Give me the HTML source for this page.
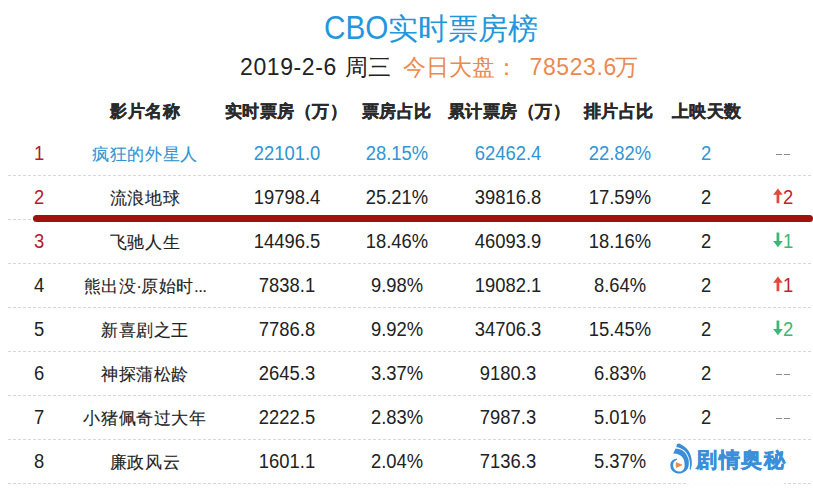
<!DOCTYPE html><html><head><meta charset="utf-8"><style>
*{margin:0;padding:0;box-sizing:border-box}
html,body{width:813px;height:490px;overflow:hidden;background:#fff}
body{position:relative;font-family:"Liberation Sans",sans-serif;color:#222}
.a{position:absolute;white-space:nowrap;text-align:center}
.title{left:0;width:813px;top:6px;height:40px;line-height:40px;font-size:30px;color:#2496dc}
.sub{top:50px;height:34px;line-height:34px;font-size:23px}
.or{color:#eb8a50}
.cjsh{position:relative;top:3px}
.cjs2{position:relative;top:0px}
.hdr{font-weight:bold;color:#2a2a2a;-webkit-text-stroke:0.35px #2a2a2a;font-size:17px;letter-spacing:0.5px}
.c{font-size:20px;letter-spacing:0px;transform:scaleX(0.92)}
.cj{font-size:17px;letter-spacing:0.6px;padding-top:2px;transform:none;-webkit-text-stroke:0.12px currentColor}
.blue{color:#2f95d4}
.red{color:#b81a2e}
.dash{position:absolute;left:8px;width:805px;height:1px;background-image:linear-gradient(to right,#d8d8d8 0,#d8d8d8 3px,transparent 3px);background-size:5px 1px}
.bar{position:absolute;left:33px;width:780px;top:215px;height:7px;border-radius:4px;background:#9e1212}
.ar{display:inline-block;vertical-align:baseline;margin-right:0px}
.gd{color:#8a8a8a}
.wm{position:absolute;left:696px;top:446px;height:28px;line-height:28px;font-size:21px;font-weight:bold;color:#3b8fd9;letter-spacing:1.6px;-webkit-text-stroke:0.5px #3b8fd9}
</style></head><body>
<div class="a title" style="left:323.5px;top:8px;width:auto;font-size:33px;transform:scaleX(0.9);transform-origin:0 0">CBO</div>
<div class="a title" style="left:387.5px;width:auto"><span class="cjsh">实时票房榜</span></div>
<div class="a sub" style="left:240px;letter-spacing:0.6px">2019-2-6</div>
<div class="a sub" style="left:345px"><span class="cjs2">周三</span></div>
<div class="a sub or" style="left:402.5px"><span class="cjs2">今日大盘</span></div>
<div class="a sub or" style="left:495px"><span class="cjs2">：</span></div>
<div class="a sub or" style="left:529.5px"><span style="letter-spacing:0.6px">78523.</span>6<span class="cjs2" style="margin-left:-1px">万</span></div>
<div class="a hdr" style="left:45.30000000000001px;width:200px;top:90px;height:44px;line-height:44px">影片名称</div>
<div class="a hdr" style="left:186.2px;width:200px;top:90px;height:44px;line-height:44px">实时票房（万）</div>
<div class="a hdr" style="left:296.6px;width:200px;top:90px;height:44px;line-height:44px">票房占比</div>
<div class="a hdr" style="left:409.0px;width:200px;top:90px;height:44px;line-height:44px">累计票房（万）</div>
<div class="a hdr" style="left:518.7px;width:200px;top:90px;height:44px;line-height:44px">排片占比</div>
<div class="a hdr" style="left:606.8px;width:200px;top:90px;height:44px;line-height:44px">上映天数</div>
<div class="dash" style="top:175px"></div>
<div class="dash" style="top:219px"></div>
<div class="dash" style="top:263px"></div>
<div class="dash" style="top:307px"></div>
<div class="dash" style="top:351px"></div>
<div class="dash" style="top:395px"></div>
<div class="dash" style="top:439px"></div>
<div class="dash" style="top:483px"></div>
<div class="bar"></div>
<div class="a c red" style="left:-31.0px;width:140px;top:131px;height:44px;line-height:44px">1</div>
<div class="a c cj blue" style="left:75.0px;width:140px;top:131px;height:44px;line-height:44px">疯狂的外星人</div>
<div class="a c blue" style="left:217.0px;width:140px;top:131px;height:44px;line-height:44px">22101.0</div>
<div class="a c blue" style="left:327.0px;width:140px;top:131px;height:44px;line-height:44px">28.15%</div>
<div class="a c blue" style="left:438.0px;width:140px;top:131px;height:44px;line-height:44px">62462.4</div>
<div class="a c blue" style="left:549.5px;width:140px;top:131px;height:44px;line-height:44px">22.82%</div>
<div class="a c blue" style="left:636.0px;width:140px;top:131px;height:44px;line-height:44px">2</div>
<div style="position:absolute;left:776px;top:154px;width:6px;height:1px;background:#8a8a8a"></div>
<div style="position:absolute;left:784px;top:154px;width:6px;height:1px;background:#8a8a8a"></div>
<div class="a c red" style="left:-31.0px;width:140px;top:175px;height:44px;line-height:44px">2</div>
<div class="a c cj" style="left:75.0px;width:140px;top:175px;height:44px;line-height:44px">流浪地球</div>
<div class="a c" style="left:217.0px;width:140px;top:175px;height:44px;line-height:44px">19798.4</div>
<div class="a c" style="left:327.0px;width:140px;top:175px;height:44px;line-height:44px">25.21%</div>
<div class="a c" style="left:438.0px;width:140px;top:175px;height:44px;line-height:44px">39816.8</div>
<div class="a c" style="left:549.5px;width:140px;top:175px;height:44px;line-height:44px">17.59%</div>
<div class="a c" style="left:636.0px;width:140px;top:175px;height:44px;line-height:44px">2</div>
<div class="a c" style="left:753.0px;width:60px;top:175px;height:44px;line-height:44px"><svg class="ar" width="11" height="16" viewBox="0 0 11 16"><path d="M5.5 0.5 L10.7 6.8 L7 6.8 L7 15.3 L4 15.3 L4 6.8 L0.3 6.8 Z" fill="#e4473c"/></svg><span style="color:#c21f2c">2</span></div>
<div class="a c red" style="left:-31.0px;width:140px;top:219px;height:44px;line-height:44px">3</div>
<div class="a c cj" style="left:75.0px;width:140px;top:219px;height:44px;line-height:44px">飞驰人生</div>
<div class="a c" style="left:217.0px;width:140px;top:219px;height:44px;line-height:44px">14496.5</div>
<div class="a c" style="left:327.0px;width:140px;top:219px;height:44px;line-height:44px">18.46%</div>
<div class="a c" style="left:438.0px;width:140px;top:219px;height:44px;line-height:44px">46093.9</div>
<div class="a c" style="left:549.5px;width:140px;top:219px;height:44px;line-height:44px">18.16%</div>
<div class="a c" style="left:636.0px;width:140px;top:219px;height:44px;line-height:44px">2</div>
<div class="a c" style="left:753.0px;width:60px;top:219px;height:44px;line-height:44px"><svg class="ar" width="11" height="16" viewBox="0 0 11 16"><path d="M5.5 15.3 L10.7 9 L7 9 L7 0.5 L4 0.5 L4 9 L0.3 9 Z" fill="#3cb776"/></svg><span style="color:#3cb776">1</span></div>
<div class="a c" style="left:-31.0px;width:140px;top:263px;height:44px;line-height:44px">4</div>
<div class="a c cj" style="left:75.0px;width:140px;top:263px;height:44px;line-height:44px">熊出没<span style="letter-spacing:-0.7px">·</span>原始时<span style="letter-spacing:-0.6px">...</span></div>
<div class="a c" style="left:217.0px;width:140px;top:263px;height:44px;line-height:44px">7838.1</div>
<div class="a c" style="left:327.0px;width:140px;top:263px;height:44px;line-height:44px">9.98%</div>
<div class="a c" style="left:438.0px;width:140px;top:263px;height:44px;line-height:44px">19082.1</div>
<div class="a c" style="left:549.5px;width:140px;top:263px;height:44px;line-height:44px">8.64%</div>
<div class="a c" style="left:636.0px;width:140px;top:263px;height:44px;line-height:44px">2</div>
<div class="a c" style="left:753.0px;width:60px;top:263px;height:44px;line-height:44px"><svg class="ar" width="11" height="16" viewBox="0 0 11 16"><path d="M5.5 0.5 L10.7 6.8 L7 6.8 L7 15.3 L4 15.3 L4 6.8 L0.3 6.8 Z" fill="#e4473c"/></svg><span style="color:#c21f2c">1</span></div>
<div class="a c" style="left:-31.0px;width:140px;top:307px;height:44px;line-height:44px">5</div>
<div class="a c cj" style="left:75.0px;width:140px;top:307px;height:44px;line-height:44px">新喜剧之王</div>
<div class="a c" style="left:217.0px;width:140px;top:307px;height:44px;line-height:44px">7786.8</div>
<div class="a c" style="left:327.0px;width:140px;top:307px;height:44px;line-height:44px">9.92%</div>
<div class="a c" style="left:438.0px;width:140px;top:307px;height:44px;line-height:44px">34706.3</div>
<div class="a c" style="left:549.5px;width:140px;top:307px;height:44px;line-height:44px">15.45%</div>
<div class="a c" style="left:636.0px;width:140px;top:307px;height:44px;line-height:44px">2</div>
<div class="a c" style="left:753.0px;width:60px;top:307px;height:44px;line-height:44px"><svg class="ar" width="11" height="16" viewBox="0 0 11 16"><path d="M5.5 15.3 L10.7 9 L7 9 L7 0.5 L4 0.5 L4 9 L0.3 9 Z" fill="#3cb776"/></svg><span style="color:#3cb776">2</span></div>
<div class="a c" style="left:-31.0px;width:140px;top:351px;height:44px;line-height:44px">6</div>
<div class="a c cj" style="left:75.0px;width:140px;top:351px;height:44px;line-height:44px">神探蒲松龄</div>
<div class="a c" style="left:217.0px;width:140px;top:351px;height:44px;line-height:44px">2645.3</div>
<div class="a c" style="left:327.0px;width:140px;top:351px;height:44px;line-height:44px">3.37%</div>
<div class="a c" style="left:438.0px;width:140px;top:351px;height:44px;line-height:44px">9180.3</div>
<div class="a c" style="left:549.5px;width:140px;top:351px;height:44px;line-height:44px">6.83%</div>
<div class="a c" style="left:636.0px;width:140px;top:351px;height:44px;line-height:44px">2</div>
<div style="position:absolute;left:776px;top:374px;width:6px;height:1px;background:#8a8a8a"></div>
<div style="position:absolute;left:784px;top:374px;width:6px;height:1px;background:#8a8a8a"></div>
<div class="a c" style="left:-31.0px;width:140px;top:395px;height:44px;line-height:44px">7</div>
<div class="a c cj" style="left:75.0px;width:140px;top:395px;height:44px;line-height:44px">小猪佩奇过大年</div>
<div class="a c" style="left:217.0px;width:140px;top:395px;height:44px;line-height:44px">2222.5</div>
<div class="a c" style="left:327.0px;width:140px;top:395px;height:44px;line-height:44px">2.83%</div>
<div class="a c" style="left:438.0px;width:140px;top:395px;height:44px;line-height:44px">7987.3</div>
<div class="a c" style="left:549.5px;width:140px;top:395px;height:44px;line-height:44px">5.01%</div>
<div class="a c" style="left:636.0px;width:140px;top:395px;height:44px;line-height:44px">2</div>
<div style="position:absolute;left:776px;top:418px;width:6px;height:1px;background:#8a8a8a"></div>
<div style="position:absolute;left:784px;top:418px;width:6px;height:1px;background:#8a8a8a"></div>
<div class="a c" style="left:-31.0px;width:140px;top:439px;height:44px;line-height:44px">8</div>
<div class="a c cj" style="left:75.0px;width:140px;top:439px;height:44px;line-height:44px">廉政风云</div>
<div class="a c" style="left:217.0px;width:140px;top:439px;height:44px;line-height:44px">1601.1</div>
<div class="a c" style="left:327.0px;width:140px;top:439px;height:44px;line-height:44px">2.04%</div>
<div class="a c" style="left:438.0px;width:140px;top:439px;height:44px;line-height:44px">7136.3</div>
<div class="a c" style="left:549.5px;width:140px;top:439px;height:44px;line-height:44px">5.37%</div>
<div style="position:absolute;left:688px;top:442px;width:96px;height:46px;background:rgba(255,255,255,0.88)"></div>
<svg style="position:absolute;left:666px;top:441px" width="30" height="36" viewBox="0 0 30 36">
<path d="M11 3.1 L13.1 2.4 C19 5 23 9 24.4 13.5 C26.2 19 26.6 24.5 24.2 29.4 L23.6 27.5 C24.2 25 24.2 23 23.8 21.1 C23.4 18.5 22.9 16.5 22.1 14.9 C21 12.5 19.8 10.7 18 9.3 C15.8 7.6 13.2 6.6 10.3 5.9 Z" fill="#3a8ed8"/>
<path d="M7.2 12.4 L9.6 7.6 C12 8 14 8.3 15.9 9 C18 10.5 19.8 12 20.7 14.2 C22 16.5 22.8 18.5 22.8 21.1 C22.9 23.5 22.7 25.2 22.1 26.7 C21.3 28.7 20 29.9 18.6 30.8 C16.9 31.9 15 32.6 13.1 32.6 C10.8 32.6 9 32 7.5 30.8 C5.5 29.2 4.4 27.5 4.4 25.3 C4.2 23.5 4.5 22.2 5.1 21.1 C6 19.5 7 18.8 8.2 18.3 L11 17.6 L11 18.7 C9.8 19.3 8.7 20 7.9 21.1 C7.2 22.3 7 23.8 7.2 25.3 C7.5 27.2 8.4 28.5 9.6 29.4 C10.9 30.3 12.3 30.6 13.8 30.5 C15.3 30.4 16.5 29.8 17.3 28.7 C18.3 27.4 18.7 25.7 18.6 23.9 C18.6 21.8 18.3 19.8 17.6 18.3 C16.7 16.6 15.7 15.4 14.5 14.5 C13.2 13.6 11.8 13.1 10.3 12.8 Z" fill="#3a8ed8"/>
<path d="M10.2 21.6 L10.2 26.6 L16 23.9 Z" fill="#ee8536" stroke="#ee8536" stroke-width="0.6" stroke-linejoin="round"/>
</svg>
<div class="wm">剧情奥秘</div>
</body></html>
